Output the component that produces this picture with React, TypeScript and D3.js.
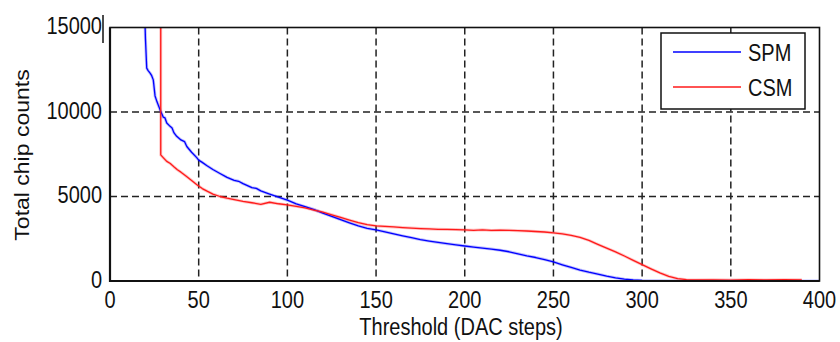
import React from "react";
import * as d3 from "d3";

const xTicks = [0, 50, 100, 150, 200, 250, 300, 350, 400];
const yTicks = [0, 5000, 10000, 15000];
const seriesNames = ["SPM", "CSM"];

const spmT = [19.7, 20, 20.7, 21.5, 22.6, 23.5, 24.4, 25.4, 26.5, 28.2, 30, 31, 32, 33.9, 35, 36, 37.6, 40, 42, 43.3, 46, 48.9, 50, 52, 54.5, 58, 62, 66, 70, 72.5, 75, 80, 82.5, 85, 90, 95, 100, 105, 110, 115, 120, 125, 130, 135, 140, 145, 150, 155, 160, 165, 170, 175, 180, 185, 190, 195, 200, 205, 210, 215, 220, 225, 230, 235, 240, 245, 250, 255, 260, 265, 270, 275, 280, 285, 290, 295, 300, 305, 310, 320, 340, 360, 380, 400];
const spmV = [15400, 14300, 12600, 12450, 12300, 12150, 11900, 10950, 10600, 10140, 9700, 9650, 9350, 9150, 9050, 8780, 8560, 8350, 8250, 7960, 7620, 7300, 7150, 7020, 6830, 6600, 6360, 6130, 5960, 5900, 5760, 5520, 5480, 5330, 5140, 4960, 4780, 4560, 4400, 4230, 4020, 3830, 3630, 3440, 3260, 3120, 3020, 2910, 2790, 2670, 2560, 2450, 2360, 2280, 2210, 2140, 2070, 2010, 1950, 1890, 1820, 1730, 1610, 1490, 1390, 1270, 1130, 960, 800, 650, 520, 410, 290, 190, 110, 60, 30, 15, 10, 5, 0, 0, 0, 0];

const csmT = [28.6, 28.6, 30, 32, 34, 36, 38, 40, 43, 46, 49, 52, 55, 58, 62, 66, 70, 75, 80, 85, 90, 95, 100, 105, 110, 115, 120, 125, 130, 135, 140, 145, 150, 155, 160, 165, 170, 175, 180, 185, 190, 195, 200, 205, 210, 215, 220, 225, 230, 235, 240, 245, 250, 255, 260, 265, 270, 275, 280, 285, 290, 295, 300, 305, 310, 315, 320, 325, 330, 340, 350, 360, 370, 380, 390];
const csmV = [15400, 7460, 7300, 7080, 6950, 6760, 6580, 6440, 6200, 5950, 5700, 5470, 5300, 5140, 5000, 4900, 4820, 4710, 4630, 4540, 4660, 4570, 4500, 4420, 4330, 4200, 4070, 3920, 3760, 3600, 3450, 3330, 3260, 3230, 3200, 3160, 3130, 3100, 3080, 3060, 3050, 3040, 3020, 3000, 3030, 2990, 3010, 3000, 2980, 2960, 2930, 2900, 2850, 2790, 2700, 2580, 2400, 2170, 1950, 1720, 1480, 1220, 970, 720, 480, 280, 140, 80, 60, 70, 55, 75, 60, 80, 70];

const W = 840;
const H = 342;
const left = 110;
const right = 819.5;
const top = 27.5;
const bottom = 281;

const FONT = "'Liberation Sans', Arial, sans-serif";
const SY = 1.15;

export default function App() {
  const x = d3.scaleLinear().domain([0, 400]).range([left, right]);
  const y = d3.scaleLinear().domain([0, 15000]).range([bottom, top]);
  const line = d3
    .line<[number, number]>()
    .x((d) => x(d[0]))
    .y((d) => y(d[1]));
  const spm = spmT.map((t, i) => [t, spmV[i]] as [number, number]);
  const csm = csmT.map((t, i) => [t, csmV[i]] as [number, number]);

  const txt = (
    key: string,
    tx: number,
    ty: number,
    s: string,
    anchor: string
  ) => (
    <text
      key={key}
      transform={`translate(${tx},${ty}) scale(1,${SY})`}
      textAnchor={anchor}
      fontFamily={FONT}
      fontSize={20}
      fill="#111"
    >
      {s}
    </text>
  );

  return (
    <svg
      width={W}
      height={H}
      style={{ position: "absolute", left: 0, top: 0, background: "#fff" }}
    >
      <defs>
        <clipPath id="plotclip">
          <rect x={left} y={top} width={right - left} height={bottom - top} />
        </clipPath>
      </defs>
      <rect x={0} y={0} width={W} height={H} fill="#fff" />
      {xTicks.slice(1, -1).map((t) => (
        <line
          key={"gx" + t}
          x1={x(t)}
          x2={x(t)}
          y1={top}
          y2={bottom}
          stroke="#222"
          strokeWidth={1.5}
          strokeDasharray="7,4"
        />
      ))}
      {yTicks.slice(1, -1).map((t) => (
        <line
          key={"gy" + t}
          x1={left}
          x2={right}
          y1={y(t)}
          y2={y(t)}
          stroke="#222"
          strokeWidth={1.5}
          strokeDasharray="7,4"
        />
      ))}
      <g clipPath="url(#plotclip)">
        <path d={line(spm) || ""} fill="none" stroke="#0000ff" strokeOpacity={0.25} strokeWidth={3} strokeLinejoin="round" />
        <path d={line(csm) || ""} fill="none" stroke="#ff1a1a" strokeOpacity={0.25} strokeWidth={3} strokeLinejoin="round" />
        <path d={line(spm) || ""} fill="none" stroke="#0000ff" strokeWidth={1.3} strokeLinejoin="round" />
        <path d={line(csm) || ""} fill="none" stroke="#ff1a1a" strokeWidth={1.3} strokeLinejoin="round" />
      </g>
      <rect x={left} y={top} width={right - left} height={bottom - top} fill="none" stroke="#111" strokeWidth={1.6} />
      <line x1={left} x2={left} y1={top} y2={bottom + 1} stroke="#111" strokeWidth={2.2} />
      <line x1={left} x2={right} y1={bottom} y2={bottom} stroke="#111" strokeWidth={2.2} />
      <line x1={103} x2={103} y1={15} y2={43} stroke="#111" strokeWidth={1.5} />
      {xTicks.map((t) => txt("xt" + t, x(t), 308, String(t), "middle"))}
      {yTicks.map((t) => txt("yt" + t, 102, y(t) + 6.5, String(t), "end"))}
      {txt("xtitle", 461, 335, "Threshold (DAC steps)", "middle")}
      <text
        transform={`translate(29,155) rotate(-90) scale(${SY},1)`}
        textAnchor="middle"
        fontFamily={FONT}
        fontSize={20}
        fill="#111"
      >
        Total chip counts
      </text>
      <rect x={661} y={33} width={144} height={76} fill="#fff" stroke="#111" strokeWidth={1.5} />
      <line x1={673} x2={741} y1={52} y2={52} stroke="#0000ff" strokeWidth={1.5} />
      <line x1={673} x2={741} y1={87} y2={87} stroke="#ff1a1a" strokeWidth={1.5} />
      {txt("l0", 748, 61, seriesNames[0], "start")}
      {txt("l1", 748, 96, seriesNames[1], "start")}
    </svg>
  );
}
